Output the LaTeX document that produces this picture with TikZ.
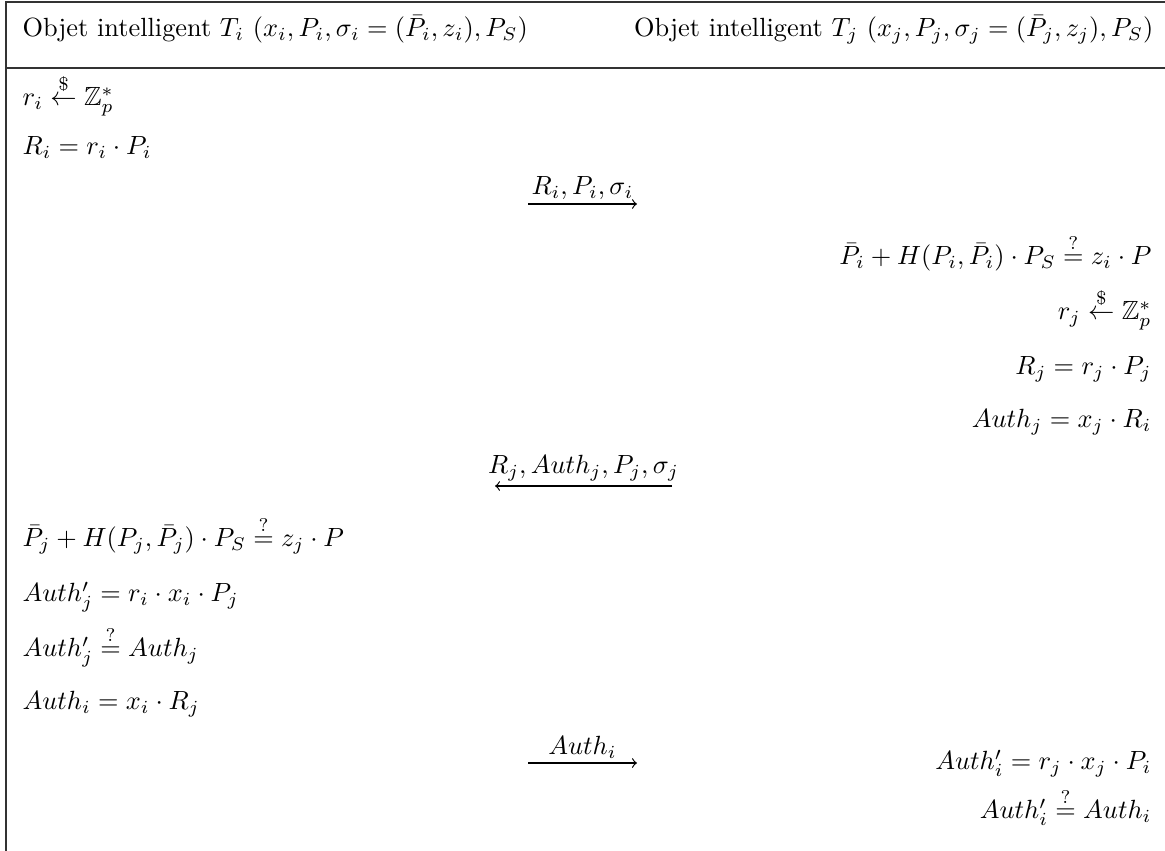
\documentclass[tikz,border=0pt]{standalone}
\usepackage{amsmath,amssymb}
\begin{document}
\begin{tikzpicture}[x=0.013352cm, y=-0.013352cm,
  frame/.style={line width=0.6pt, draw=black!80},
  lft/.style={anchor=mid west, inner sep=0pt},
  rgt/.style={anchor=mid east, inner sep=0pt},
  msg/.style={anchor=south, inner sep=0pt},
  flow/.style={->, line width=0.45pt}]
\useasboundingbox (0,0) rectangle (1165,851);
% frame
\coordinate (tl) at (6,2);
\coordinate (tr) at (1165,2);
\coordinate (bl) at (6,851);
\coordinate (sl) at (6,68);
\coordinate (sr) at (1165,68);
\draw[frame] (tr) -- (tl) -- (bl);
\draw[frame] (sl) -- (sr);
% header
\node[lft] (hi) at (22,31) {Objet intelligent $T_i\ (x_i, P_i, \sigma_i = (\bar{P}_i, z_i), P_S)$};
\node[rgt] (hj) at (1154,31) {Objet intelligent $T_j\ (x_j, P_j, \sigma_j = (\bar{P}_j, z_j), P_S)$};
% left column, step 1
\node[lft] (a1) at (22,100) {$r_i \stackrel{\$}{\leftarrow} \mathbb{Z}_p^*$};
\node[lft] (a2) at (22,149) {$R_i = r_i \cdot P_i$};
% message 1
\coordinate (m1s) at (528,204);
\coordinate (m1e) at (637,204);
\draw[flow] (m1s) -- (m1e);
\node[msg] (m1) at (582.5,200) {$R_i, P_i, \sigma_i$};
% right column
\node[rgt] (b1) at (1152,259) {$\bar{P}_i + H(P_i, \bar{P}_i) \cdot P_S \stackrel{?}{=} z_i \cdot P$};
\node[rgt] (b2) at (1152,314) {$r_j \stackrel{\$}{\leftarrow} \mathbb{Z}_p^*$};
\node[rgt] (b3) at (1152,369) {$R_j = r_j \cdot P_j$};
\node[rgt] (b4) at (1152,422) {$Auth_j = x_j \cdot R_i$};
% message 2
\coordinate (m2s) at (672,486);
\coordinate (m2e) at (495,486);
\draw[flow] (m2s) -- (m2e);
\node[msg] (m2) at (583.5,482) {$R_j, Auth_j, P_j, \sigma_j$};
% left column, step 2
\node[lft] (c1) at (22,541) {$\bar{P}_j + H(P_j, \bar{P}_j) \cdot P_S \stackrel{?}{=} z_j \cdot P$};
\node[lft] (c2) at (22,596) {$Auth'_j = r_i \cdot x_i \cdot P_j$};
\node[lft] (c3) at (22,651) {$Auth'_j \stackrel{?}{=} Auth_j$};
\node[lft] (c4) at (22,704) {$Auth_i = x_i \cdot R_j$};
% message 3
\coordinate (m3s) at (528,763);
\coordinate (m3e) at (637,763);
\draw[flow] (m3s) -- (m3e);
\node[msg] (m3) at (582.5,759) {$Auth_i$};
% right column, step 3
\node[rgt] (d1) at (1152,764) {$Auth'_i = r_j \cdot x_j \cdot P_i$};
\node[rgt] (d2) at (1152,813) {$Auth'_i \stackrel{?}{=} Auth_i$};
\end{tikzpicture}
\end{document}
